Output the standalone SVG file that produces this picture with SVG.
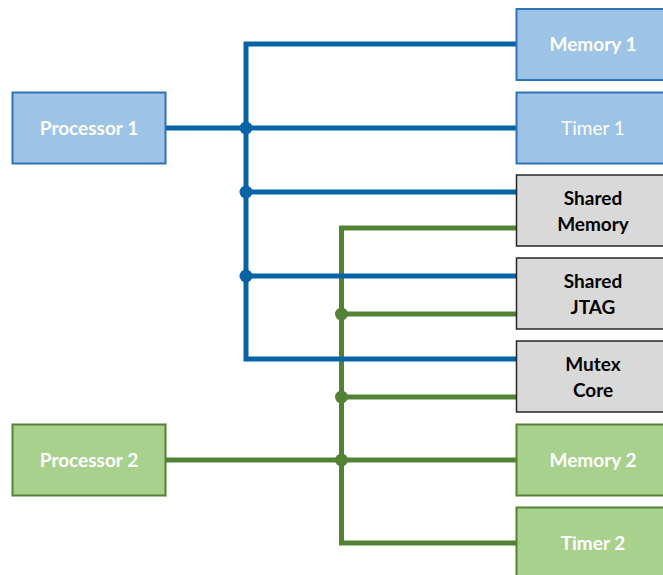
<svg xmlns="http://www.w3.org/2000/svg" width="663" height="575" viewBox="0 0 663 575">
<style>
.blue rect{fill:#9DC3E6;stroke:#2E75B6;stroke-width:2}
.green rect{fill:#A9D18E;stroke:#548235;stroke-width:2}
.gray rect{fill:#D9D9D9;stroke:#262626;stroke-width:1.5}
text{font-family:"Lato","Open Sans","Liberation Sans",sans-serif;font-size:19px;text-anchor:middle}
.blue text,.green text{fill:#FFFFFF;font-weight:bold}
.gray text{fill:#000000;font-weight:bold}
.bl{fill:none;stroke:#0563A6;stroke-width:5}
.gl{fill:none;stroke:#548235;stroke-width:5}
.bd{fill:#0563A6}
.gd{fill:#548235}
</style>
<g id="connectors">
<path class="gl" d="M516,228 H341.5 V543 H516 M341.5,314 H516 M341.5,397 H516 M166,460 H516"/>
<path class="bl" d="M516,44 H246 V359 H516 M166,128 H516 M246,192 H516 M246,276 H516"/>
<circle class="bd" cx="246" cy="128" r="6.5"/>
<circle class="bd" cx="246" cy="192" r="6.5"/>
<circle class="bd" cx="246" cy="276" r="6.5"/>
<circle class="gd" cx="341.5" cy="314" r="6.5"/>
<circle class="gd" cx="341.5" cy="397" r="6.5"/>
<circle class="gd" cx="341.5" cy="460" r="6.5"/>
</g>
<g id="processor1" class="blue"><rect x="12.5" y="92.5" width="153" height="71"/><text x="89" y="134.5">Processor 1</text></g>
<g id="processor2" class="green"><rect x="12.5" y="424.5" width="153" height="71"/><text x="89" y="466.5">Processor 2</text></g>
<g id="memory1" class="blue"><rect x="516.5" y="9" width="160" height="71"/><text x="593" y="51">Memory 1</text></g>
<g id="timer1" class="blue"><rect x="516.5" y="92.5" width="160" height="71"/><text x="593" y="134.5" style="font-weight:normal">Timer 1</text></g>
<g id="sharedmemory" class="gray"><rect x="516.5" y="175" width="160" height="71"/><text x="593" y="205">Shared</text><text x="593" y="231">Memory</text></g>
<g id="sharedjtag" class="gray"><rect x="516.5" y="258" width="160" height="71"/><text x="593" y="288">Shared</text><text x="593" y="314">JTAG</text></g>
<g id="mutexcore" class="gray"><rect x="516.5" y="341" width="160" height="71"/><text x="593" y="371">Mutex</text><text x="593" y="397">Core</text></g>
<g id="memory2" class="green"><rect x="516.5" y="424.5" width="160" height="71"/><text x="593" y="466.5">Memory 2</text></g>
<g id="timer2" class="green"><rect x="516.5" y="507.5" width="160" height="80"/><text x="593" y="549.5">Timer 2</text></g>
</svg>
